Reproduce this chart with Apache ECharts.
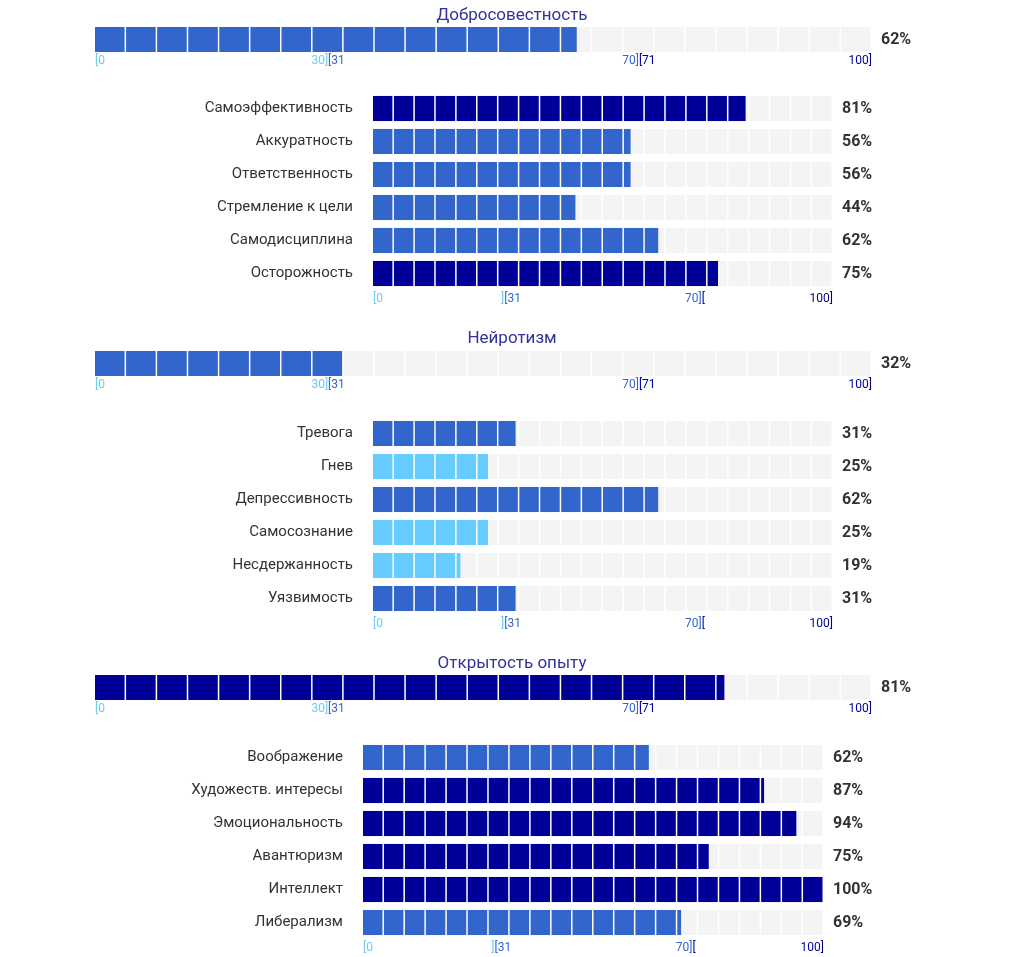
<!DOCTYPE html>
<html><head><meta charset="utf-8">
<script src="https://cdn.jsdelivr.net/npm/echarts@6/dist/echarts.min.js"></script>
<style>html,body{margin:0;padding:0;background:#fff}#c{width:1014px;height:957px}</style>
</head><body><div id="c"></div>
<script>
const sectionTitles = ['Добросовестность', 'Нейротизм', 'Открытость опыту'];
const mainValues = [62, 32, 81];
const subCategories = [
  ['Самоэффективность', 'Аккуратность', 'Ответственность', 'Стремление к цели', 'Самодисциплина', 'Осторожность'],
  ['Тревога', 'Гнев', 'Депрессивность', 'Самосознание', 'Несдержанность', 'Уязвимость'],
  ['Воображение', 'Художеств. интересы', 'Эмоциональность', 'Авантюризм', 'Интеллект', 'Либерализм']
];
const subValues = [
  [81, 56, 56, 44, 62, 75],
  [31, 25, 62, 25, 19, 31],
  [62, 87, 94, 75, 100, 69]
];

const LIGHT = '#66ccff', MED = '#3366cc', DARK = '#000099', GREY = '#f4f4f4';
function colorOf(v) { return v <= 30 ? LIGHT : (v <= 70 ? MED : DARK); }

const layout = [
  { title: 2, main: 27, sub: 92, subL: 373, subW: 460 },
  { title: 325, main: 351, sub: 417, subL: 373, subW: 460 },
  { title: 650, main: 675, sub: 741, subL: 363, subW: 461 }
];

function makeRender(N, ratio, fs) {
  return function (params, api) {
    const v = api.value(0), idx = api.value(1);
    const p0 = api.coord([0, idx]);
    const p100 = api.coord([100, idx]);
    const h = api.size([0, 1])[1] * ratio;
    const y = p0[1] - h / 2;
    const ch = [];
    const c = colorOf(v);
    for (let i = 0; i < N; i++) {
      const a = i * 100 / N, b = (i + 1) * 100 / N;
      const xa = api.coord([a, idx])[0], xb = api.coord([b, idx])[0] - 1.5;
      ch.push({ type: 'rect', shape: { x: xa, y: y, width: xb - xa, height: h }, style: { fill: GREY } });
      if (v > a) {
        const xe = v >= b ? xb : api.coord([v, idx])[0];
        ch.push({ type: 'rect', shape: { x: xa, y: y, width: xe - xa, height: h }, style: { fill: c } });
      }
    }
    ch.push({ type: 'text', style: { x: p100[0] + 9, y: p0[1], text: v + '%', fill: '#333', font: 'bold ' + fs + 'px Roboto', verticalAlign: 'middle' } });
    return { type: 'group', children: ch };
  };
}

const rich = {
  a: { color: LIGHT, fontSize: 12, fontFamily: 'Roboto' },
  b: { color: MED, fontSize: 12, fontFamily: 'Roboto' },
  c: { color: DARK, fontSize: 12, fontFamily: 'Roboto' }
};
function fmt(main) {
  return function (v) {
    if (v === 0) return '{a|[0}';
    if (v === 30) return main ? '{a|30]}{b|[31}' : '{a|]}{b|[31}';
    if (v === 70) return main ? '{b|70]}{c|[71}' : '{b|70]}{c|[}';
    if (v === 100) return '{c|100]}';
    return '';
  };
}
function xAx(gi, main) {
  return { type: 'value', gridIndex: gi, min: 0, max: 100, interval: 10,
    axisLine: { show: false }, axisTick: { show: false }, splitLine: { show: false },
    axisLabel: { formatter: fmt(main), rich: rich, margin: 3, alignMinLabel: 'left', alignMaxLabel: 'right', showMinLabel: true, showMaxLabel: true } };
}

const grid = [], xAxis = [], yAxis = [], series = [], title = [];
layout.forEach((L, s) => {
  title.push({ text: sectionTitles[s], left: 507, top: L.title, textAlign: 'center',
    textStyle: { color: '#333399', fontSize: 17, fontWeight: 'normal', fontFamily: 'Roboto' } });
  const gm = grid.length;
  grid.push({ left: 95, width: 777, top: L.main, height: 25 });
  xAxis.push(xAx(gm, true));
  yAxis.push({ type: 'category', gridIndex: gm, data: [''], show: false });
  series.push({ type: 'custom', xAxisIndex: gm, yAxisIndex: gm, renderItem: makeRender(25, 1, 16),
    data: [[mainValues[s], 0]], encode: { x: 0, y: 1 }, silent: true });
  const gs = grid.length;
  grid.push({ left: L.subL, width: L.subW, top: L.sub, height: 198 });
  xAxis.push(xAx(gs, false));
  yAxis.push({ type: 'category', gridIndex: gs, data: subCategories[s], inverse: true,
    axisLine: { show: false }, axisTick: { show: false },
    axisLabel: { color: '#333', fontSize: 15, fontFamily: 'Roboto', margin: 20 } });
  series.push({ type: 'custom', xAxisIndex: gs, yAxisIndex: gs, renderItem: makeRender(22, 0.76, 16),
    data: subValues[s].map((v, i) => [v, i]), encode: { x: 0, y: 1 }, silent: true });
});

const chart = echarts.init(document.getElementById('c'));
chart.setOption({ animation: false, title, grid, xAxis, yAxis, series });
</script></body></html>
